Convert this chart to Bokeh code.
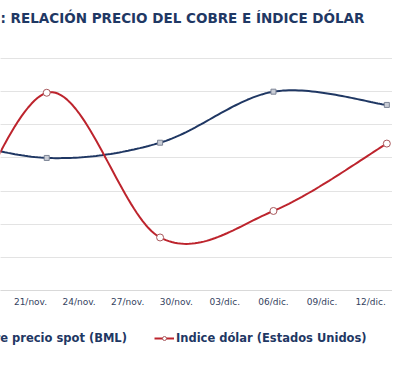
import numpy as np
import pandas as pd
from bokeh.plotting import figure
from bokeh.layouts import column
from bokeh.models import Range1d, FixedTicker, Grid, Legend, LegendItem
from bokeh.embed import file_html
from bokeh.resources import INLINE

# ---- data ----
dates = ["2012-11-15", "2012-11-22", "2012-11-29", "2012-12-06", "2012-12-13"]
cobre = [3.635, 3.60, 3.623, 3.70, 3.68]        # precio spot BML (eje izq., oculto)
dolar = [78.90, 80.79, 79.48, 79.72, 80.33]     # índice dólar (eje der., oculto)
tick_dates = ["2012-11-21", "2012-11-24", "2012-11-27", "2012-11-30",
              "2012-12-03", "2012-12-06", "2012-12-09", "2012-12-12"]
tick_labels = ["21/nov.", "24/nov.", "27/nov.", "30/nov.",
               "03/dic.", "06/dic.", "09/dic.", "12/dic."]
cobre_grid = [3.40, 3.45, 3.50, 3.55, 3.60, 3.65, 3.70, 3.75]
title_text = ": RELACIÓN PRECIO DEL COBRE E ÍNDICE DÓLAR"
serie1 = "Cobre precio spot (BML)"
serie2 = "Indice dólar (Estados Unidos)"

epoch = pd.Timestamp("1970-01-01")
def day(s):
    return float((pd.Timestamp(s) - epoch).days)

x = [day(d) for d in dates]
xt = [day(d) for d in tick_dates]

def smooth(xs, ys, n=40):
    P = np.column_stack([xs, ys]).astype(float)
    P = np.vstack([P[0], P, P[-1]])
    ox, oy = [], []
    for i in range(1, len(P) - 2):
        p0, p1, p2, p3 = P[i - 1], P[i], P[i + 1], P[i + 2]
        c1 = p1 + (p2 - p0) / 6.0
        c2 = p2 - (p3 - p1) / 6.0
        t = np.linspace(0, 1, n)[:, None]
        b = ((1 - t) ** 3) * p1 + 3 * ((1 - t) ** 2) * t * c1 + 3 * (1 - t) * t * t * c2 + t ** 3 * p2
        ox.extend(b[:, 0]); oy.extend(b[:, 1])
    return ox, oy

BLUE = "#1f3763"
RED = "#bd242d"
TXT = "#1f3864"
W = 392

x0 = day("2012-11-22") - 2.854
x1 = day("2012-12-13") + 0.35

p = figure(width=W, height=310, output_backend="svg", toolbar_location=None,
           x_range=Range1d(x0, x1), y_range=Range1d(3.40, 3.7923),
           y_axis_location=None, min_border_left=0, min_border_right=0,
           min_border_top=30, min_border_bottom=20)
p.extra_y_ranges = {"dolar": Range1d(79.0, 81.3536)}
p.outline_line_color = None
p.xgrid.visible = False
p.add_layout(Grid(dimension=1, ticker=FixedTicker(ticks=cobre_grid),
                  grid_line_color="#e3e3e3", grid_line_width=1))

p.title.text = title_text
p.title.text_font = "DejaVu Sans"
p.title.text_font_size = "13.5px"
p.title.text_font_style = "bold"
p.title.text_color = TXT
p.title.offset = 0

ax = p.xaxis[0]
ax.ticker = FixedTicker(ticks=xt)
ax.major_label_overrides = {t: l for t, l in zip(xt, tick_labels)}
ax.major_tick_line_color = None
ax.minor_tick_line_color = None
ax.axis_line_color = "#d9d9d9"
ax.major_label_text_font = "DejaVu Sans"
ax.major_label_text_font_size = "9px"
ax.major_label_text_color = "#34425e"
ax.major_label_standoff = 0

bx, by = smooth(x, cobre)
rx, ry = smooth(x, dolar)
p.line(bx, by, line_color=BLUE, line_width=2)
p.scatter(x, cobre, marker="square", size=5, fill_color="#c9cdd6", line_color="#7d8596")
p.line(rx, ry, line_color=RED, line_width=2, y_range_name="dolar")
p.scatter(x, dolar, marker="circle", size=7, fill_color="white", line_color="#a8585c",
          y_range_name="dolar")

# legend strip (cropped on the left like the reference); series drawn out of view,
# only their legend glyphs show
lg = figure(width=W, height=50, output_backend="svg", toolbar_location=None,
            x_range=p.x_range, y_range=Range1d(0, 1),
            x_axis_location=None, y_axis_location=None,
            min_border_left=0, min_border_right=0, min_border_top=0, min_border_bottom=0)
lg.outline_line_color = None
lg.xgrid.visible = False
lg.ygrid.visible = False
lbl = lg.line(x, cobre, line_color=BLUE, line_width=2)
lbm = lg.scatter(x, cobre, marker="square", size=5, fill_color="#c9cdd6", line_color="#7d8596")
lrl = lg.line(x, dolar, line_color=RED, line_width=2)
lrm = lg.scatter(x, dolar, marker="circle", size=7, fill_color="white", line_color="#a8585c")
legend = Legend(items=[LegendItem(label=serie1, renderers=[lbl, lbm]),
                       LegendItem(label=serie2, renderers=[lrl, lrm])],
                orientation="horizontal", location=(-52, 15),
                glyph_width=20, glyph_height=10, label_standoff=2, spacing=27,
                padding=0, margin=0, border_line_color=None, background_fill_alpha=0,
                label_text_font="DejaVu Sans", label_text_font_size="11.5px",
                label_text_font_style="bold", label_text_color=TXT)
lg.add_layout(legend)

layout = column(p, lg, spacing=0)
open("out.html", "w").write(file_html(layout, INLINE))
